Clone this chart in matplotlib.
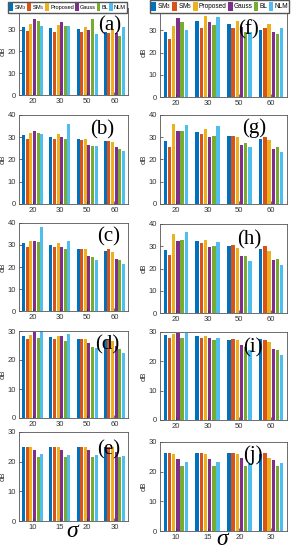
import matplotlib
matplotlib.use("Agg")
import matplotlib.pyplot as plt
import numpy as np
from matplotlib.patches import Patch

plt.rcParams["font.family"] = ["Liberation Sans", "DejaVu Sans"]
plt.rcParams["mathtext.fontset"] = "custom"
plt.rcParams["mathtext.rm"] = "Liberation Sans"
plt.rcParams["mathtext.it"] = "Liberation Serif:italic"

methods = ["SM$_3$", "SM$_5$", "Proposed", "Gauss", "BL", "NLM"]
colors = ["#0072BD", "#D95319", "#EDB120", "#7E2F8E", "#77AC30", "#4DBEEE"]

sigma_top = ["20", "30", "50", "60"]
sigma_bottom = ["10", "15", "20", "30"]

# rows = sigma groups, columns = methods
a_vals = [[31.2, 29.2, 32.8, 35.0, 33.8, 31.5],
          [30.9, 29.0, 32.3, 33.4, 31.5, 31.8],
          [30.2, 28.9, 31.2, 30.0, 34.9, 28.2],
          [29.0, 28.5, 30.3, 28.5, 27.2, 31.2]]
b_vals = [[30.9, 29.3, 32.1, 32.8, 32.1, 31.5],
          [30.1, 29.1, 31.3, 30.3, 29.1, 36.0],
          [29.0, 28.7, 29.1, 26.6, 26.0, 26.0],
          [28.2, 28.2, 28.0, 25.4, 24.9, 23.7]]
c_vals = [[30.8, 29.3, 32.0, 31.9, 31.3, 38.0],
          [30.1, 29.0, 30.8, 29.3, 28.4, 32.0],
          [28.4, 28.4, 28.1, 25.2, 24.6, 23.4],
          [27.3, 28.2, 26.7, 23.7, 23.4, 21.2]]
d_vals = [[28.3, 27.3, 28.6, 29.8, 27.7, 30.5],
          [27.8, 27.3, 28.3, 28.4, 26.6, 28.9],
          [27.1, 27.1, 27.1, 25.8, 24.6, 24.0],
          [27.0, 27.0, 26.4, 24.9, 23.8, 22.3]]
e_vals = [[25.0, 25.0, 25.0, 24.0, 21.6, 22.6],
          [25.0, 25.0, 25.0, 24.0, 21.6, 22.3],
          [25.0, 25.0, 25.0, 24.0, 21.6, 22.3],
          [25.0, 25.0, 25.0, 23.4, 21.7, 22.0]]
f_vals = [[29.0, 26.0, 32.0, 35.7, 33.7, 30.0],
          [34.0, 30.9, 36.4, 33.6, 32.4, 36.0],
          [32.7, 30.9, 34.0, 31.5, 29.4, 29.0],
          [30.0, 30.9, 33.0, 29.0, 28.2, 31.0]]
g_vals = [[28.1, 25.7, 36.0, 33.0, 33.0, 35.7],
          [32.5, 31.5, 33.6, 30.3, 30.6, 35.1],
          [30.6, 30.6, 30.0, 26.4, 27.2, 25.7],
          [29.1, 30.0, 28.8, 24.9, 25.7, 23.4]]
h_vals = [[28.2, 26.2, 35.5, 32.2, 33.0, 36.4],
          [32.5, 31.5, 33.0, 29.5, 30.0, 31.9],
          [30.3, 30.7, 29.1, 25.5, 25.8, 23.5],
          [28.8, 30.0, 27.7, 23.7, 24.3, 21.4]]
i_vals = [[28.9, 28.1, 29.2, 29.7, 28.1, 29.7],
          [28.5, 28.1, 28.6, 28.1, 27.2, 28.1],
          [27.4, 27.7, 27.2, 25.5, 24.9, 23.8],
          [27.5, 27.4, 26.6, 24.3, 24.0, 22.1]]
j_vals = [[26.2, 26.4, 25.9, 24.4, 21.8, 23.2],
          [26.2, 26.4, 25.9, 24.4, 21.8, 23.2],
          [26.2, 26.2, 25.9, 24.7, 21.8, 22.8],
          [25.9, 26.2, 24.7, 24.1, 21.8, 22.8]]

W, H = 292, 550
fig = plt.figure(figsize=(W / 100, H / 100), dpi=100)

# (label, values, ticklabels, ylim top, top tick, left px, right px, top px, bottom px, label pos, sigma y)
panels = [
    ("(a)", a_vals, sigma_top, 40, 30, 19, 128, 8, 95, (0.83, 0.80), None),
    ("(b)", b_vals, sigma_top, 40, 40, 19, 128, 115, 204, (0.76, 0.83), None),
    ("(c)", c_vals, sigma_top, 40, 40, 19, 128, 223, 311, (0.82, 0.84), None),
    ("(d)", d_vals, sigma_top, 30, 30, 19, 128, 331, 418, (0.81, 0.84), None),
    ("(e)", e_vals, sigma_bottom, 30, 30, 19, 128, 432, 521, (0.82, 0.80), -0.11),
    ("(f)", f_vals, sigma_top, 40, 30, 160, 287, 8, 97, (0.70, 0.75), None),
    ("(g)", g_vals, sigma_top, 40, 40, 160, 287, 115, 204, (0.74, 0.85), None),
    ("(h)", h_vals, sigma_top, 40, 40, 160, 287, 224, 313, (0.70, 0.82), None),
    ("(i)", i_vals, sigma_top, 30, 30, 160, 287, 332, 420, (0.73, 0.82), None),
    ("(j)", j_vals, sigma_bottom, 30, 30, 160, 287, 442, 531, (0.73, 0.85), -0.085),
]

edge = "#555555"
slot = 0.8 / 6
for label, vals, ticks, ytop, ttop, x0, x1, y0, y1, lpos, sig_y in panels:
    ax = fig.add_axes([x0 / W, 1 - y1 / H, (x1 - x0) / W, (y1 - y0) / H])
    vals = np.array(vals)
    xs = np.arange(len(ticks))
    for k in range(vals.shape[1]):
        ax.bar(xs - 0.4 + slot * (k + 0.5), vals[:, k], width=slot * 0.82,
               color=colors[k], linewidth=0)
    ax.set_xlim(-0.5, 3.5)
    ax.set_ylim(0, ytop)
    ax.set_yticks(np.arange(0, ttop + 1, 10))
    ax.set_xticks(xs)
    ax.set_xticklabels(ticks)
    ax.tick_params(labelsize=5.5, length=2, width=0.5, direction="in",
                   colors="#333333", pad=2)
    for sp in ax.spines.values():
        sp.set_color(edge)
        sp.set_linewidth(0.6)
    ax.set_ylabel("dB", fontsize=5.5, labelpad=1, color="#333333")
    ax.text(lpos[0], lpos[1], label, transform=ax.transAxes, ha="center",
            va="center", fontsize=15, family="Liberation Serif")
    if sig_y is not None:
        ax.text(0.5, sig_y, r"$\sigma$", transform=ax.transAxes, ha="center",
                va="center", fontsize=17)

handles = [Patch(facecolor=c, edgecolor="none") for c in colors]
legend_specs = [(8, 2, 4.0), (150, 0, 4.7)]
for lx, ly, fs in legend_specs:
    fig.legend(handles, methods, loc="upper left",
               bbox_to_anchor=(lx / W, 1 - ly / H), ncol=6, fontsize=fs,
               frameon=True, fancybox=False, edgecolor=edge, framealpha=1,
               handlelength=0.7, handleheight=1.8, handletextpad=0.15,
               columnspacing=0.2, borderpad=0.2, borderaxespad=0)

fig.savefig("out.png", dpi=100)
